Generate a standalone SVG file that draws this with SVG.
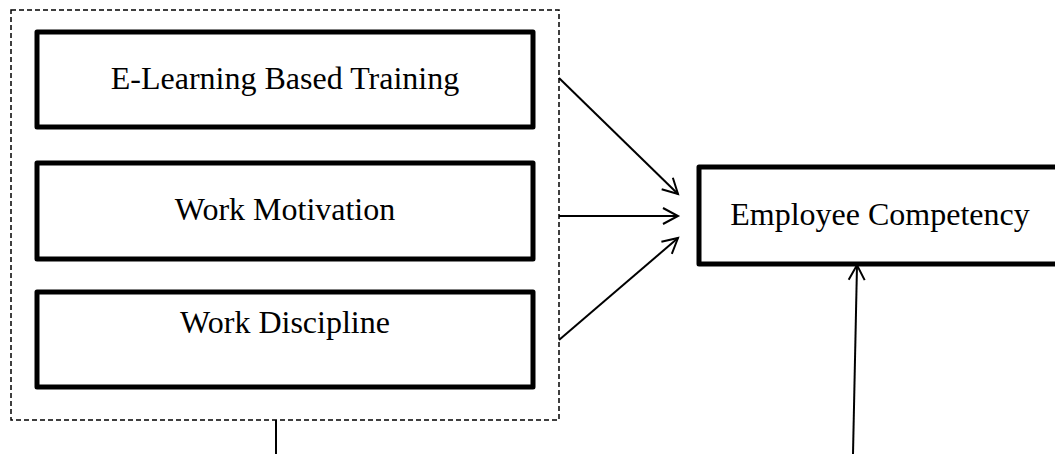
<svg xmlns="http://www.w3.org/2000/svg" width="1055" height="454" viewBox="0 0 1055 454">
<style>
.box{fill:#fff;stroke:#000;stroke-width:5;stroke-linejoin:round}
.lbl{font-family:"Liberation Serif","Times New Roman",serif;font-size:32px;fill:#000;text-anchor:middle}
.con{stroke:#000;stroke-width:2;fill:none}
.dash{fill:none;stroke:#000;stroke-width:1.5;stroke-dasharray:5 3}
</style>
<defs>
<marker id="arr" markerUnits="userSpaceOnUse" markerWidth="20" markerHeight="20" viewBox="-16 -10 20 20" refX="0" refY="0" orient="auto">
<path d="M-15,-8 L0,0 L-15,8" fill="none" stroke="#000" stroke-width="2"/>
</marker>
</defs>
<rect width="1055" height="454" fill="#fff"/>
<g id="group-frame">
<rect class="dash" x="11" y="10" width="548" height="410"/>
</g>
<g id="node-elearning">
<rect class="box" x="37" y="32" width="496" height="95"/>
<text class="lbl" x="285" y="89">E-Learning Based Training</text>
</g>
<g id="node-motivation">
<rect class="box" x="37" y="163" width="496" height="96"/>
<text class="lbl" x="285" y="220">Work Motivation</text>
</g>
<g id="node-discipline">
<rect class="box" x="37" y="292" width="496" height="95"/>
<text class="lbl" x="285" y="333">Work Discipline</text>
</g>
<g id="node-competency">
<rect class="box" x="699" y="167" width="370" height="97"/>
<text class="lbl" x="880" y="225">Employee Competency</text>
</g>
<g id="connectors">
<line class="con" x1="559" y1="78" x2="678" y2="194" marker-end="url(#arr)"/>
<line class="con" x1="559" y1="216" x2="678" y2="216" marker-end="url(#arr)"/>
<line class="con" x1="559" y1="340" x2="678" y2="238" marker-end="url(#arr)"/>
<line class="con" x1="853" y1="454" x2="857" y2="265" marker-end="url(#arr)"/>
<line class="con" x1="276" y1="420" x2="276" y2="454"/>
</g>
</svg>
